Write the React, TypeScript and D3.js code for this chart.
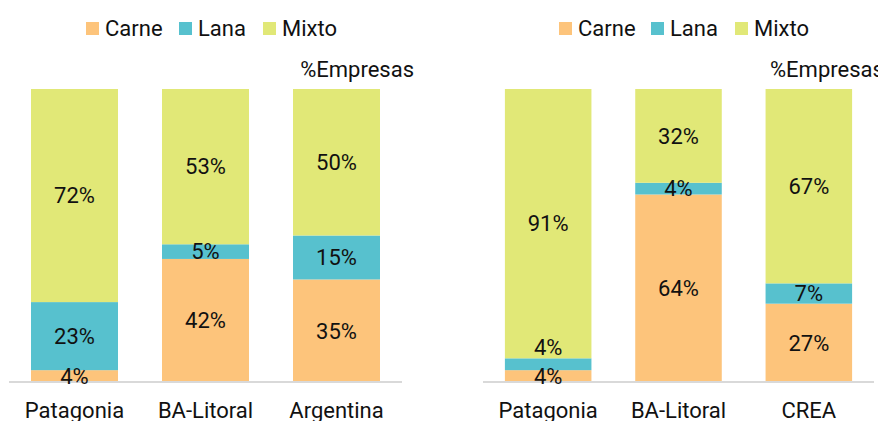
import React from "react";
import * as d3 from "d3";

const seriesKeys = ["Carne", "Lana", "Mixto"];
const seriesColors = ["#FDC47B", "#57C1CE", "#E1E877"];

const leftCategories = ["Patagonia", "BA-Litoral", "Argentina"];
const leftCarne = [4, 42, 35];
const leftLana = [23, 5, 15];
const leftMixto = [72, 53, 50];

const rightCategories = ["Patagonia", "BA-Litoral", "CREA"];
const rightCarne = [4, 64, 27];
const rightLana = [4, 4, 7];
const rightMixto = [91, 32, 67];

const unitLabel = "%Empresas";

const FONT = "Roboto, 'Noto Sans', sans-serif";

type PanelProps = {
  categories: string[];
  carne: number[];
  lana: number[];
  mixto: number[];
  x0: number;
  x1: number;
  legendX: number[];
  unitX: number;
  unitAnchor: string;
};

function Panel({ categories, carne, lana, mixto, x0, x1, legendX, unitX, unitAnchor }: PanelProps) {
  const rows = categories.map((c, i) => ({ cat: c, Carne: carne[i], Lana: lana[i], Mixto: mixto[i] }));
  const stack = d3.stack<any>().keys(seriesKeys).offset(d3.stackOffsetExpand);
  const layers = stack(rows);
  const x = d3.scaleBand<string>().domain(categories).range([x0, x1]).paddingInner(0.336).paddingOuter(0.168);
  const y = d3.scaleLinear().domain([0, 1]).range([382, 89]);
  const bw = x.bandwidth();

  // label positions with simple collision avoidance
  const labels: { x: number; y: number; text: string }[] = [];
  categories.forEach((c, ci) => {
    let prevCenter: number | null = null;
    layers.forEach((layer, li) => {
      const seg = layer[ci];
      const top = y(seg[1]);
      const bot = y(seg[0]);
      let cy = (top + bot) / 2;
      if (prevCenter !== null && prevCenter - cy < 20) {
        cy = top - 11;
      }
      prevCenter = cy;
      const raw = [carne, lana, mixto][li][ci];
      labels.push({ x: (x(c) as number) + bw / 2, y: cy, text: `${raw}%` });
    });
  });

  return (
    <g>
      {layers.map((layer, li) => (
        <g key={seriesKeys[li]} fill={seriesColors[li]}>
          {layer.map((seg, ci) => (
            <rect
              key={ci}
              x={x(categories[ci])}
              y={y(seg[1])}
              width={bw}
              height={y(seg[0]) - y(seg[1])}
            />
          ))}
        </g>
      ))}
      <line x1={x0} x2={x1} y1={382} y2={382} stroke="#D9D9D9" strokeWidth={2} />
      {labels.map((l, i) => (
        <text key={i} x={l.x} y={l.y + 7.8} textAnchor="middle" fontSize={22} fill="#111">
          {l.text}
        </text>
      ))}
      {categories.map((c) => (
        <text key={c} x={(x(c) as number) + bw / 2} y={418} textAnchor="middle" fontSize={22} fill="#111">
          {c}
        </text>
      ))}
      {seriesKeys.map((k, i) => (
        <g key={k}>
          <rect x={legendX[i]} y={22} width={13} height={13} fill={seriesColors[i]} />
          <text x={legendX[i] + 19} y={35.5} fontSize={22} fill="#111">
            {k}
          </text>
        </g>
      ))}
      <text x={unitX} y={77} textAnchor={unitAnchor as any} fontSize={22} fill="#111">
        {unitLabel}
      </text>
    </g>
  );
}

export default function App() {
  return (
    <svg
      width={878}
      height={421}
      style={{ position: "absolute", left: 0, top: 0, background: "#fff", fontFamily: FONT }}
    >
      <rect width={878} height={421} fill="#fff" />
      <Panel
        categories={leftCategories}
        carne={leftCarne}
        lana={leftLana}
        mixto={leftMixto}
        x0={9}
        x1={402}
        legendX={[86, 179, 263]}
        unitX={414}
        unitAnchor="end"
      />
      <Panel
        categories={rightCategories}
        carne={rightCarne}
        lana={rightLana}
        mixto={rightMixto}
        x0={483}
        x1={874}
        legendX={[559, 651, 735]}
        unitX={770}
        unitAnchor="start"
      />
    </svg>
  );
}
